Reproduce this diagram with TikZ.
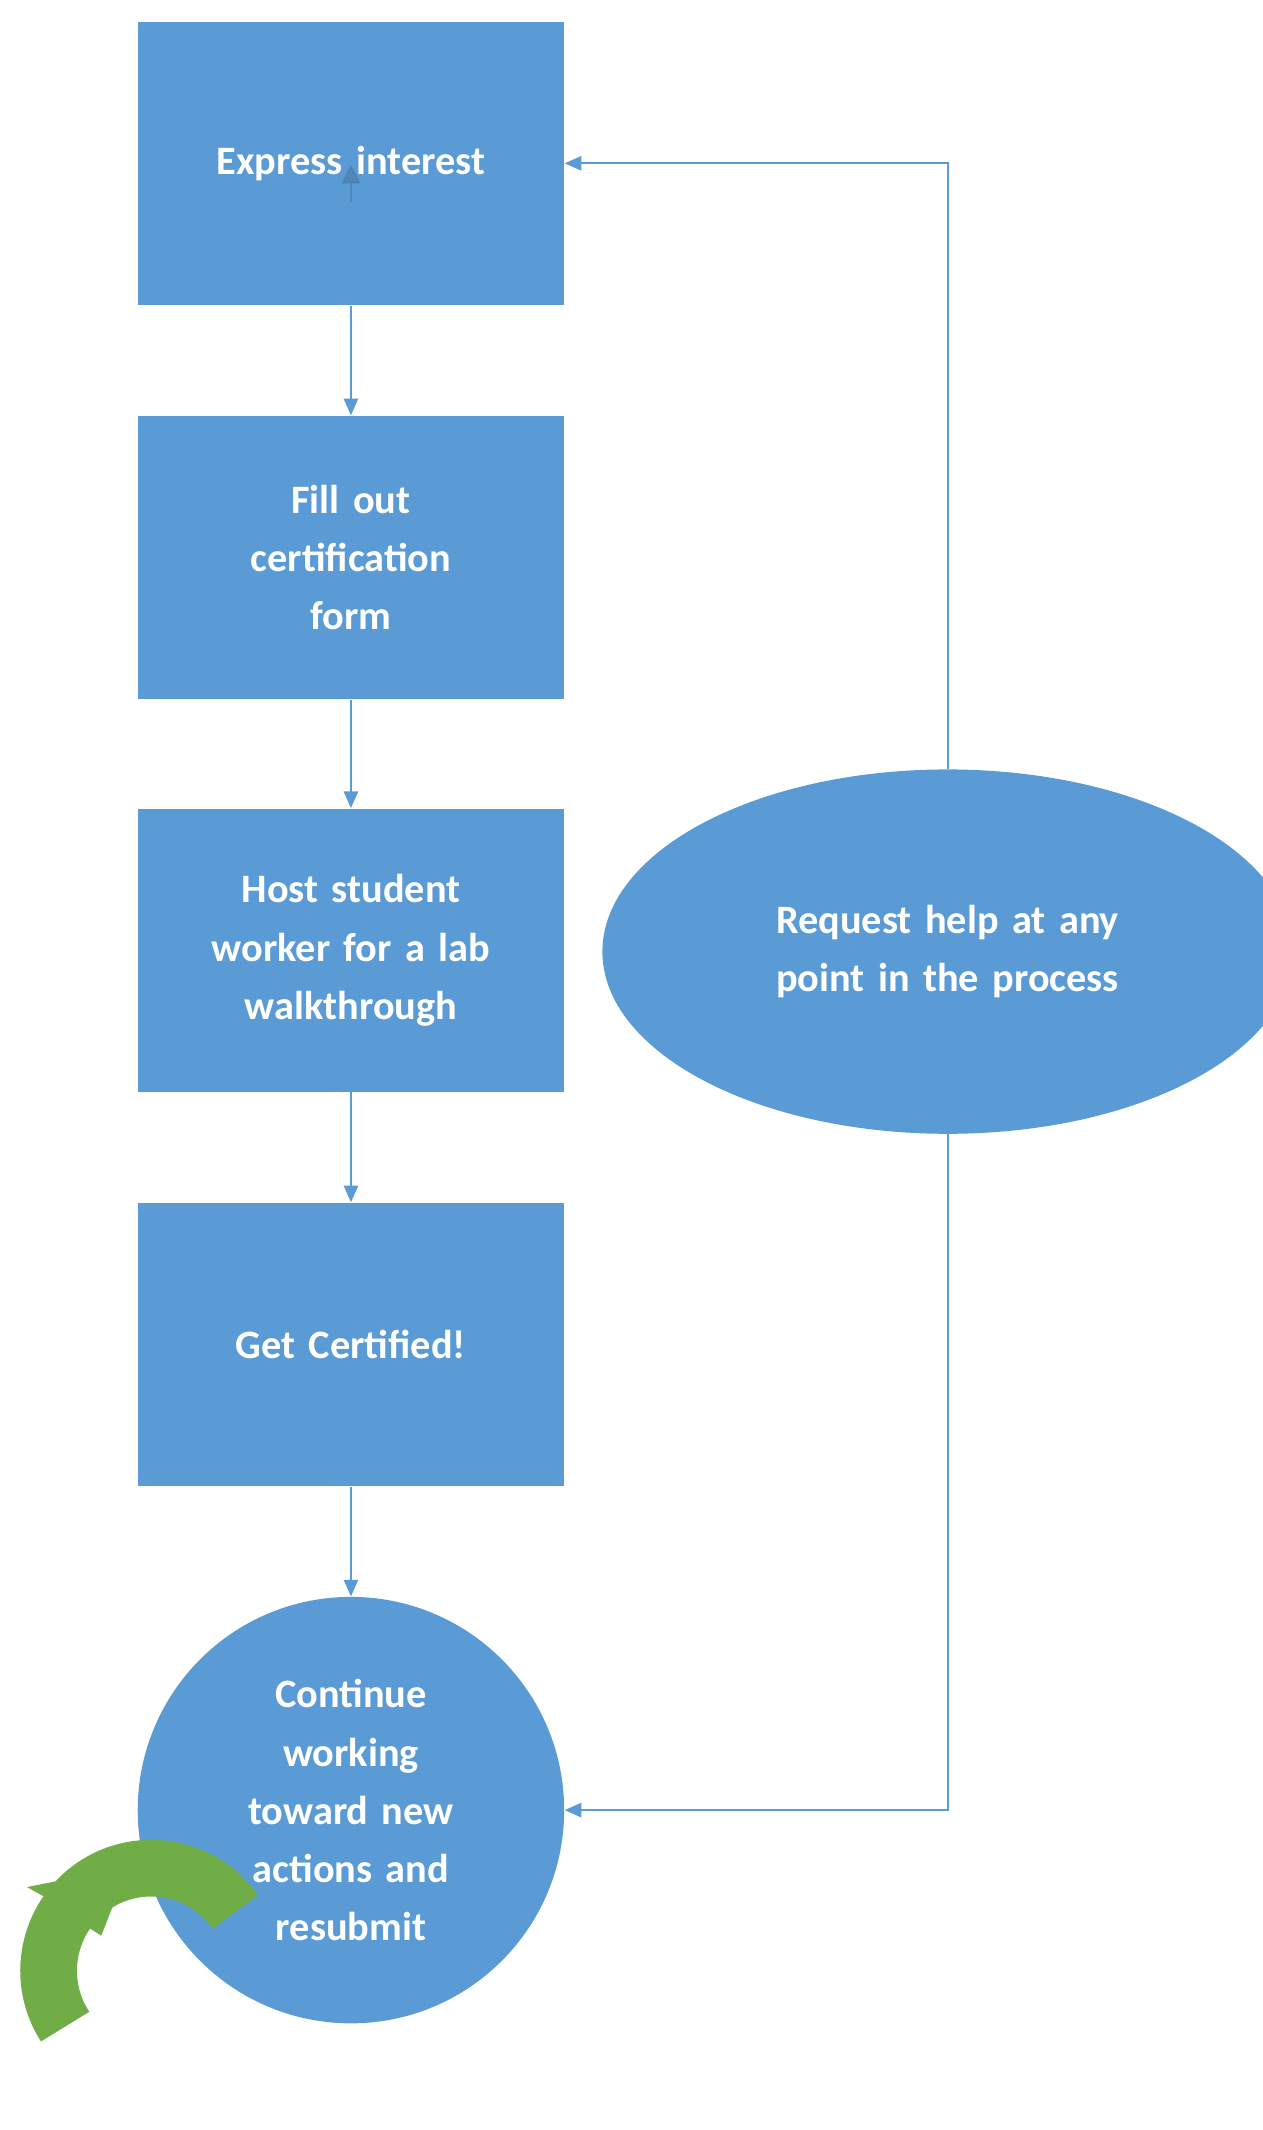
\documentclass[tikz,border=0pt]{standalone}
\usepackage{fontspec}
\setmainfont{Carlito}
\usetikzlibrary{shapes.geometric,arrows.meta}
\definecolor{boxblue}{HTML}{5B9BD5}
\definecolor{linkblue}{HTML}{5B9BD5}
\definecolor{loopgreen}{HTML}{70AD47}
\begin{document}
\begin{tikzpicture}
    [
        x = 0.02cm, y = -0.02cm,
        stage/.style = {draw = none, fill = boxblue, text = white, font = \bfseries\fontsize{17}{24.5}\selectfont,
                       align = center, text width = 5.8cm, minimum width = 6.32cm, minimum height = 4.2cm},
        link/.style = {draw = linkblue, line width = 0.8pt, -{Triangle[width=6pt,length=7pt]}}
    ]
        \useasboundingbox (0,0) rectangle (935,1578);

        \node[stage] (Interest) at (260,121) {Express interest};
        \node[stage] (Form) at (260,413) {Fill out\\ certification\\ form};
        \node[stage] (Host) at (260,704) {Host student\\ worker for a lab\\ walkthrough};
        \node[stage] (Certified) at (260,996) {Get Certified!};
        \node[stage, circle, minimum size = 6.32cm, text width = 5cm, inner sep = 0pt] (Continue) at (260,1341)
            {Continue\\ working\\ toward new\\ actions and\\ resubmit};
        \node[stage, ellipse, minimum width = 8.44cm, minimum height = 5.4cm, text width = 7cm] (Help) at (702,705)
            {Request help at any\\ point in the process};

        \draw[link] (Interest) -- (Form);
        \draw[link] (Form) -- (Host);
        \draw[link] (Host) -- (Certified);
        \draw[link] (Certified) -- (Continue);
        \draw[link] (Help.north) |- (Interest.east);
        \draw[link] (Help.south) |- (Continue.east);

        % small leftover arrow in the first box
        \coordinate (StubA) at (260,150);
        \coordinate (StubB) at (260,122);
        \draw[draw = boxblue!80!black, opacity = 0.6, line width = 0.8pt, -{Triangle[width=8pt,length=8pt]}] (StubA) -- (StubB);

        % green loop arrow
        \coordinate (LoopC) at (112,1460);
        \draw[loopgreen, line width = 0.84cm] (LoopC) ++(-35:76) arc[start angle = -35, end angle = -213, radius = 76];
        \fill[loopgreen] (20,1398) -- (95,1383) -- (75,1434) -- (64,1427) -- (45,1412) -- cycle;
\end{tikzpicture}
\end{document}
